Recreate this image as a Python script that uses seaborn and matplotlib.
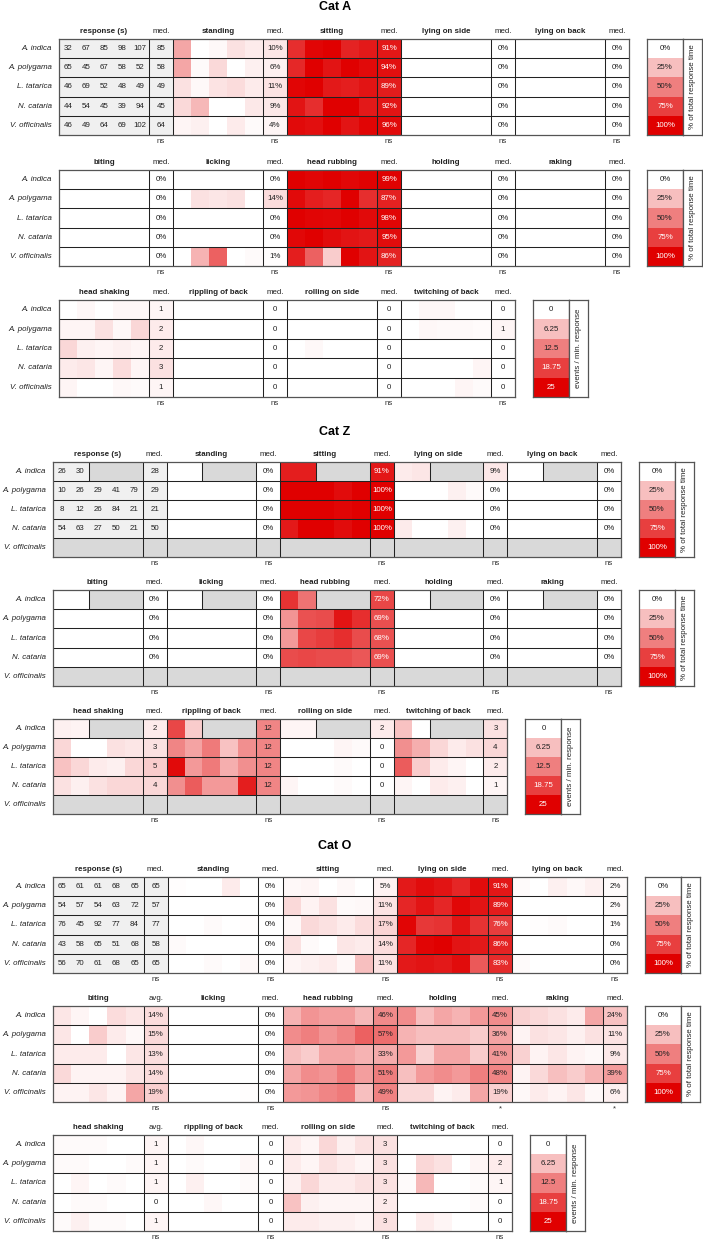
import numpy as np
import matplotlib
matplotlib.use("Agg")
import matplotlib.pyplot as plt
import seaborn as sns
from matplotlib.colors import LinearSegmentedColormap

# =========================
# Data
# =========================
N = None
plants = ["A. indica", "A. polygama", "L. tatarica", "N. cataria", "V. officinalis"]

pct_legend_vals = [0, 25, 50, 75, 100]
pct_legend_ticks = ["0%", "25%", "50%", "75%", "100%"]
evt_legend_vals = [0, 6.25, 12.5, 18.75, 25]
evt_legend_ticks = ["0", "6.25", "12.5", "18.75", "25"]

zero5 = [[0, 0, 0, 0, 0], [0, 0, 0, 0, 0], [0, 0, 0, 0, 0], [0, 0, 0, 0, 0], [0, 0, 0, 0, 0]]
zero_med = [0, 0, 0, 0, 0]

# ----- Cat A -----
a_response = [[32, 67, 85, 98, 107], [65, 45, 67, 58, 52], [46, 69, 52, 48, 49],
              [44, 54, 45, 39, 94], [46, 49, 64, 69, 102]]
a_response_med = [85, 58, 49, 45, 64]
a_standing = [[35, 0, 3, 12, 8], [35, 2, 15, 0, 6], [12, 3, 11, 14, 8],
              [15, 28, 0, 0, 9], [4, 6, 0, 8, 2]]
a_standing_med = [10, 6, 11, 9, 4]
a_sitting = [[82, 98, 100, 86, 90], [84, 100, 92, 100, 96], [98, 100, 90, 88, 92],
             [92, 82, 100, 100, 90], [96, 94, 100, 92, 98]]
a_sitting_med = [91, 94, 89, 92, 96]
a_licking = [[0, 0, 0, 0, 0], [0, 12, 10, 12, 0], [0, 0, 0, 0, 0],
             [0, 0, 0, 0, 0], [0, 30, 62, 0, 2]]
a_licking_med = [0, 14, 0, 0, 1]
a_head_rubbing = [[100, 98, 100, 97, 99], [96, 88, 85, 100, 82], [100, 98, 97, 100, 96],
                  [97, 100, 95, 92, 90], [88, 62, 20, 100, 92]]
a_head_rubbing_med = [99, 87, 98, 95, 86]
a_head_shaking = [[0, 0.8, 0, 0.8, 0.8], [1, 1, 3, 0.8, 4], [4, 1.5, 1, 1.5, 1],
                  [2, 2.5, 1, 3.5, 1], [1, 0, 0, 0.7, 0.5]]
a_head_shaking_med = [1, 2, 2, 3, 1]
a_rolling = [[0, 0, 0, 0, 0], [0, 0, 0, 0, 0], [0, 0.7, 0, 0, 0],
             [0, 0, 0, 0, 0], [0, 0, 0, 0, 0]]
a_twitching = [[0, 0.8, 0.8, 0, 0], [0, 0.8, 0.6, 0.6, 0.4], [0, 0, 0, 0, 0],
               [0, 0, 0, 0, 1.0], [0, 0, 0, 1.0, 0.5]]
a_twitching_med = [0, 1, 0, 0, 0]

# ----- Cat Z -----
z_response = [[26, 30, N, N, N], [10, 26, 29, 41, 79], [8, 12, 26, 84, 21],
              [54, 63, 27, 50, 21], [N, N, N, N, N]]
z_response_med = [28, 29, 21, 50, N]
z_empty = [[0, 0, N, N, N], [0, 0, 0, 0, 0], [0, 0, 0, 0, 0], [0, 0, 0, 0, 0], [N, N, N, N, N]]
z_empty_med = [0, 0, 0, 0, N]
z_sitting = [[88, 88, N, N, N], [100, 100, 100, 95, 100], [100, 100, 100, 98, 100],
             [90, 100, 100, 95, 100], [N, N, N, N, N]]
z_sitting_med = [91, 100, 100, 100, N]
z_lying_side = [[8, 10, N, N, N], [0, 0, 0, 6, 2], [0, 0, 0, 0, 0],
                [8, 0, 0, 6, 0], [N, N, N, N, N]]
z_lying_side_med = [9, 0, 0, 0, N]
z_head_rubbing = [[80, 55, N, N, N], [42, 68, 70, 92, 82], [40, 72, 76, 82, 70],
                  [70, 72, 70, 70, 66], [N, N, N, N, N]]
z_head_rubbing_med = [72, 69, 68, 69, N]
z_head_shaking = [[1.5, 1.2, N, N, N], [4, 0, 0, 3, 2.5], [6, 4, 2, 1.5, 4],
                  [3, 1.5, 3, 4, 4], [N, N, N, N, N]]
z_head_shaking_med = [2, 3, 5, 4, N]
z_rippling = [[18, 5, N, N, N], [12, 9, 13, 6, 11], [24, 10, 13, 8, 11],
              [11, 16, 10, 10, 22], [N, N, N, N, N]]
z_rippling_med = [12, 12, 12, 12, N]
z_rolling = [[1, 1, N, N, N], [0, 0, 0, 1, 0.5], [0, 0, 0, 0.5, 0],
             [1, 0, 0, 0.5, 0], [N, N, N, N, N]]
z_rolling_med = [2, 0, 0, 0, N]
z_twitching = [[6, 0, N, N, N], [11, 8, 4, 2, 3], [16, 5, 2, 1, 0],
               [1, 0, 2, 1.5, 0], [N, N, N, N, N]]
z_twitching_med = [3, 4, 2, 1, N]

# ----- Cat O -----
o_response = [[65, 61, 61, 68, 65], [54, 57, 54, 63, 72], [76, 45, 92, 77, 84],
              [43, 58, 65, 51, 68], [56, 70, 61, 68, 65]]
o_response_med = [65, 57, 77, 58, 65]
o_standing = [[1, 0, 0, 8, 0], [0, 0, 0, 0, 0], [0, 0, 2, 0, 1],
              [2, 0, 0, 0, 0], [0, 0, 2, 0, 3]]
o_sitting = [[3, 4, 0, 3, 0], [15, 5, 12, 2, 3], [3, 15, 12, 8, 14],
             [12, 2, 0, 10, 8], [4, 6, 8, 3, 25]]
o_sitting_med = [5, 11, 17, 14, 11]
o_lying_side = [[90, 95, 92, 85, 95], [85, 92, 85, 97, 92], [98, 78, 80, 92, 80],
                [85, 98, 100, 92, 90], [90, 92, 90, 95, 65]]
o_lying_side_med = [91, 89, 76, 86, 83]
o_lying_back = [[2, 0, 6, 3, 6], [0, 0, 0, 0, 0], [0, 1, 2, 0, 0],
                [0, 0, 0, 0, 0], [2, 0, 0, 0, 0]]
o_lying_back_med = [2, 2, 1, 0, 0]
o_biting = [[10, 4, 0, 14, 10], [10, 0, 20, 8, 3], [8, 8, 8, 0, 10],
            [15, 5, 5, 5, 10], [5, 5, 10, 5, 35]]
o_biting_avg = [14, 15, 13, 14, 19]
o_licking = [[0, 0, 0, 0, 0], [0, 0, 0, 0, 0], [0, 0, 0, 0, 0],
             [0, 0, 0, 0, 0], [0, 0, 0, 0, 1]]
o_head_rubbing = [[30, 42, 38, 38, 28], [45, 50, 42, 48, 62], [25, 20, 35, 35, 30],
                  [35, 45, 42, 52, 38], [40, 42, 48, 52, 25]]
o_head_rubbing_med = [46, 57, 33, 51, 49]
o_holding = [[45, 25, 35, 30, 40], [30, 25, 25, 25, 20], [40, 18, 35, 35, 20],
             [25, 40, 45, 40, 50], [15, 15, 5, 8, 35]]
o_holding_med = [45, 36, 41, 48, 19]
o_raking = [[18, 15, 12, 8, 35], [5, 12, 10, 6, 12], [18, 5, 10, 5, 3],
            [5, 15, 25, 20, 30], [3, 8, 5, 10, 3]]
o_raking_med = [24, 11, 9, 39, 6]
o_head_shaking = [[0.5, 0.5, 0.5, 0, 0], [0.5, 0.5, 0, 0, 0.5], [0, 1, 0, 0.5, 0],
                  [0, 0.5, 0.5, 0, 0], [0.5, 1.5, 0.5, 0.5, 0]]
o_head_shaking_avg = [1, 1, 1, 0, 1]
o_rippling = [[0, 0.8, 0, 0, 0], [0, 0.5, 0, 0, 0.8], [0, 1.5, 0, 0, 0.5],
              [0, 0, 0.8, 0, 0], [0, 0, 0, 0, 0]]
o_rolling = [[2, 1, 4, 1.5, 3], [2, 1, 3, 2, 1], [1.5, 4, 2, 2, 3],
             [6, 1.5, 1, 1, 1], [2, 2, 1.5, 1.5, 1]]
o_rolling_med = [3, 3, 3, 2, 3]
o_twitching = [[0, 0, 0, 0, 0], [0, 4, 3, 0, 1], [0.5, 7, 0, 0, 0.5],
               [0, 0, 0, 0, 0.5], [0, 2, 1, 0, 0]]
o_twitching_med = [0, 2, 1, 0, 0]

sig_all_ns5 = ["ns", "ns", "ns", "ns", "ns"]
sig_all_ns4 = ["ns", "ns", "ns", "ns"]
o_sig2 = ["ns", "ns", "ns", "*", "*"]

# =========================
# Style
# =========================
W, H = 703, 1240
FS = 5.7
LINE = "#222222"
EDGE = "#555555"
TXT = "#222222"

plt.rcParams["font.family"] = ["Liberation Sans", "DejaVu Sans"]

red_cmap = LinearSegmentedColormap.from_list("white_red", ["#ffffff", "#e00000"])
red_cmap.set_under("#f0f0f0")

fig = plt.figure(figsize=(W / 100, H / 100), dpi=100)


def px_axes(x0, y0, x1, y1):
    return fig.add_axes([x0 / W, 1 - y1 / H, (x1 - x0) / W, (y1 - y0) / H])


def as_float(rows):
    return np.array([[np.nan if v is None else v for v in r] for r in rows], dtype=float)


def fmt_num(v):
    return str(int(v)) if float(v).is_integer() else str(v)


def show_spines(ax):
    for s in ax.spines.values():
        s.set_visible(True)
        s.set_color(EDGE)
        s.set_linewidth(0.9)


def draw_panel(top, bottom, left, block_px, blocks, vmax, pct, sig,
               legend_vals, legend_ticks, legend_label):
    nb = len(blocks)
    ncols = 19 * nb
    width = block_px * nb
    ax = px_axes(left, top, left + width, bottom)

    # expanded grid: each trial = 3 units, med = 4 units
    mat = np.full((5, ncols), np.nan)
    for b, blk in enumerate(blocks):
        trials = as_float(blk["trials"])
        med = as_float([blk["med"]])[0]
        if blk.get("resp"):
            trials = np.where(np.isnan(trials), np.nan, -1.0)
            med = np.where(np.isnan(med), np.nan, -1.0)
        else:
            trials = trials / vmax
            med = med / vmax
        c0 = 19 * b
        for j in range(5):
            mat[:, c0 + 3 * j:c0 + 3 * j + 3] = trials[:, [j]]
        mat[:, c0 + 15:c0 + 19] = med[:, None]

    ax.set_facecolor("#d9d9d9")
    sns.heatmap(mat, ax=ax, cmap=red_cmap, vmin=0, vmax=1, cbar=False,
                xticklabels=False, yticklabels=plants)
    ax.set_yticklabels(plants, rotation=0, fontstyle="italic", fontsize=FS, color=TXT)
    ax.tick_params(axis="y", length=0, pad=5)

    for b, blk in enumerate(blocks):
        c0 = 19 * b
        trials = as_float(blk["trials"])
        med = as_float([blk["med"]])[0]
        ax.text(c0 + 7.5, -0.38, blk["name"], ha="center", va="center",
                fontsize=FS, fontweight="bold", color=TXT)
        ax.text(c0 + 17, -0.38, blk.get("head", "med."), ha="center", va="center",
                fontsize=FS, color=TXT)
        ax.text(c0 + 17, 5.36, sig[b], ha="center", va="center", fontsize=FS, color="#333333")
        for i in range(5):
            if blk.get("resp"):
                for j in range(5):
                    if not np.isnan(trials[i, j]):
                        ax.text(c0 + 3 * j + 1.5, i + 0.5, fmt_num(trials[i, j]),
                                ha="center", va="center", fontsize=FS, color=TXT)
            if not np.isnan(med[i]):
                label = fmt_num(med[i]) + ("%" if pct and not blk.get("resp") else "")
                dark = (not blk.get("resp")) and med[i] / vmax > 0.62
                ax.text(c0 + 17, i + 0.5, label, ha="center", va="center",
                        fontsize=FS, color="white" if dark else TXT)
            # border between recorded and missing trials
            valid = ~np.isnan(trials[i])
            if valid.any() and not valid.all():
                nv = int(valid.sum())
                ax.vlines(c0 + 3 * nv, i, i + 1, colors=LINE, linewidth=0.75)

    ax.hlines(range(1, 5), 0, ncols, colors=LINE, linewidth=0.75)
    xs = [19 * b + 15 for b in range(nb)] + [19 * b for b in range(1, nb)]
    ax.vlines(xs, 0, 5, colors=LINE, linewidth=0.75)
    show_spines(ax)

    # legend column
    lx = left + width + 18
    lax = px_axes(lx, top, lx + 36, bottom)
    lvals = np.array(legend_vals, dtype=float)[:, None] / max(legend_vals)
    sns.heatmap(lvals, ax=lax, cmap=red_cmap, vmin=0, vmax=1, cbar=False,
                xticklabels=False, yticklabels=False)
    for i, t in enumerate(legend_ticks):
        lax.text(0.5, i + 0.5, t, ha="center", va="center", fontsize=FS,
                 color="white" if lvals[i, 0] > 0.62 else TXT)
    show_spines(lax)
    tax = px_axes(lx + 36, top, lx + 55, bottom)
    tax.set_xticks([])
    tax.set_yticks([])
    tax.set_facecolor("white")
    tax.text(0.5, 0.5, legend_label, rotation=90, ha="center", va="center",
             fontsize=FS, color=TXT, transform=tax.transAxes)
    show_spines(tax)


def blk(name, trials, med, head="med.", resp=False):
    return {"name": name, "trials": trials, "med": med, "head": head, "resp": resp}


PCT_LABEL = "% of total response time"
EVT_LABEL = "events / min. response"

# =========================
# Cat A
# =========================
fig.text(335 / W, 1 - 7 / H, "Cat A", ha="center", va="center", fontsize=9, fontweight="bold")
draw_panel(39, 135, 59, 114, [
    blk("response (s)", a_response, a_response_med, resp=True),
    blk("standing", a_standing, a_standing_med),
    blk("sitting", a_sitting, a_sitting_med),
    blk("lying on side", zero5, zero_med),
    blk("lying on back", zero5, zero_med),
], 100, True, sig_all_ns5, pct_legend_vals, pct_legend_ticks, PCT_LABEL)
draw_panel(170, 266, 59, 114, [
    blk("biting", zero5, zero_med),
    blk("licking", a_licking, a_licking_med),
    blk("head rubbing", a_head_rubbing, a_head_rubbing_med),
    blk("holding", zero5, zero_med),
    blk("raking", zero5, zero_med),
], 100, True, sig_all_ns5, pct_legend_vals, pct_legend_ticks, PCT_LABEL)
draw_panel(300, 397, 59, 114, [
    blk("head shaking", a_head_shaking, a_head_shaking_med),
    blk("rippling of back", zero5, zero_med),
    blk("rolling on side", a_rolling, zero_med),
    blk("twitching of back", a_twitching, a_twitching_med),
], 25, False, sig_all_ns4, evt_legend_vals, evt_legend_ticks, EVT_LABEL)

# =========================
# Cat Z
# =========================
fig.text(335 / W, 1 - 432 / H, "Cat Z", ha="center", va="center", fontsize=9, fontweight="bold")
draw_panel(462, 557, 53, 113.6, [
    blk("response (s)", z_response, z_response_med, resp=True),
    blk("standing", z_empty, z_empty_med),
    blk("sitting", z_sitting, z_sitting_med),
    blk("lying on side", z_lying_side, z_lying_side_med),
    blk("lying on back", z_empty, z_empty_med),
], 100, True, sig_all_ns5, pct_legend_vals, pct_legend_ticks, PCT_LABEL)
draw_panel(590, 686, 53, 113.6, [
    blk("biting", z_empty, z_empty_med),
    blk("licking", z_empty, z_empty_med),
    blk("head rubbing", z_head_rubbing, z_head_rubbing_med),
    blk("holding", z_empty, z_empty_med),
    blk("raking", z_empty, z_empty_med),
], 100, True, sig_all_ns5, pct_legend_vals, pct_legend_ticks, PCT_LABEL)
draw_panel(719, 814, 53, 113.6, [
    blk("head shaking", z_head_shaking, z_head_shaking_med),
    blk("rippling of back", z_rippling, z_rippling_med),
    blk("rolling on side", z_rolling, z_rolling_med),
    blk("twitching of back", z_twitching, z_twitching_med),
], 25, False, sig_all_ns4, evt_legend_vals, evt_legend_ticks, EVT_LABEL)

# =========================
# Cat O
# =========================
fig.text(335 / W, 1 - 846 / H, "Cat O", ha="center", va="center", fontsize=9, fontweight="bold")
draw_panel(877, 973, 53, 114.8, [
    blk("response (s)", o_response, o_response_med, resp=True),
    blk("standing", o_standing, zero_med),
    blk("sitting", o_sitting, o_sitting_med),
    blk("lying on side", o_lying_side, o_lying_side_med),
    blk("lying on back", o_lying_back, o_lying_back_med),
], 100, True, sig_all_ns5, pct_legend_vals, pct_legend_ticks, PCT_LABEL)
draw_panel(1006, 1102, 53, 114.8, [
    blk("biting", o_biting, o_biting_avg, head="avg."),
    blk("licking", o_licking, zero_med),
    blk("head rubbing", o_head_rubbing, o_head_rubbing_med),
    blk("holding", o_holding, o_holding_med),
    blk("raking", o_raking, o_raking_med),
], 100, True, o_sig2, pct_legend_vals, pct_legend_ticks, PCT_LABEL)
draw_panel(1135, 1231, 53, 114.8, [
    blk("head shaking", o_head_shaking, o_head_shaking_avg, head="avg."),
    blk("rippling of back", o_rippling, zero_med),
    blk("rolling on side", o_rolling, o_rolling_med),
    blk("twitching of back", o_twitching, o_twitching_med),
], 25, False, sig_all_ns4, evt_legend_vals, evt_legend_ticks, EVT_LABEL)

fig.savefig("out.png", dpi=100, facecolor="white")
